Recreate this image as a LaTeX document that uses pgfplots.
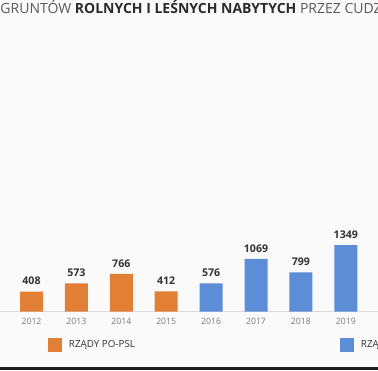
\documentclass[border=0pt]{standalone}
\usepackage{pgfplots}
\pgfplotsset{compat=1.18}
\usepackage{fontspec}
\setmainfont{Open Sans}
\definecolor{orangeBar}{HTML}{E27F36}
\definecolor{blueBar}{HTML}{5B8ED6}
\definecolor{lblGray}{HTML}{7A7A7A}
\definecolor{valGray}{HTML}{333333}
\definecolor{titleGray}{HTML}{5A5A5A}
\definecolor{titleDark}{HTML}{2B2B2B}
\definecolor{lineGray}{HTML}{DADADA}
\definecolor{bgcol}{HTML}{FAFAFA}
\begin{document}
\begin{tikzpicture}[x=1pt,y=1pt]
\path[use as bounding box] (0,0) rectangle (378,370);
\clip (0,0) rectangle (378,370);
\fill[bgcol] (0,0) rectangle (378,370);
\fill[black!88] (0,0) rectangle (378,3.3);
\node[anchor=base west, inner sep=0pt, font=\fontsize{14}{16}\selectfont, text=titleGray] at (0.3,356)
  {GRUNTÓW {\bfseries\color{titleDark}ROLNYCH I LEŚNYCH NABYTYCH} PRZEZ CUDZOZIEMCÓW};
\begin{axis}[
  at={(0pt,58.3pt)}, anchor=south west,
  scale only axis, width=378pt, height=73.95pt,
  xmin=-0.7016, xmax=7.717, ymin=0, ymax=1500,
  axis x line*=bottom, axis y line=none,
  x axis line style={draw=lineGray, line width=0.8pt},
  xtick={0,...,7}, xticklabels={2012,2013,2014,2015,2016,2017,2018,2019},
  major tick length=0pt,
  xticklabel style={font=\fontsize{8.7}{10}\selectfont, text=lblGray, anchor=center, yshift=-9.9pt},
  ytick=\empty,
  ybar, bar width=23pt, bar shift=0pt,
  nodes near coords,
  /pgf/number format/.cd, 1000 sep={}, assume math mode=true, /pgfplots/.cd,
  every node near coord/.append style={font=\fontsize{10.6}{12}\selectfont\bfseries, text=valGray, anchor=center, yshift=10.5pt},
  clip=false,
  legend columns=2,
  legend image code/.code={\fill[#1] (0pt,-7pt) rectangle (14pt,7pt);},
  legend style={draw=none, fill=none, inner sep=0pt, outer sep=0pt,
    at={(axis cs:0.367,-675)}, anchor=west,
    font=\fontsize{9.8}{12}\selectfont, text=valGray,
    /tikz/every odd column/.append style={column sep=5pt},
    /tikz/every even column/.append style={column sep=203pt}},
]
\addplot[fill=orangeBar, draw=none] coordinates {(0,408) (1,573) (2,766) (3,412)};
\addlegendentry{RZĄDY PO-PSL}
\addplot[fill=blueBar, draw=none] coordinates {(4,576) (5,1069) (6,799) (7,1349)};
\addlegendentry{RZĄDY PIS}
\end{axis}
\end{tikzpicture}
\end{document}
